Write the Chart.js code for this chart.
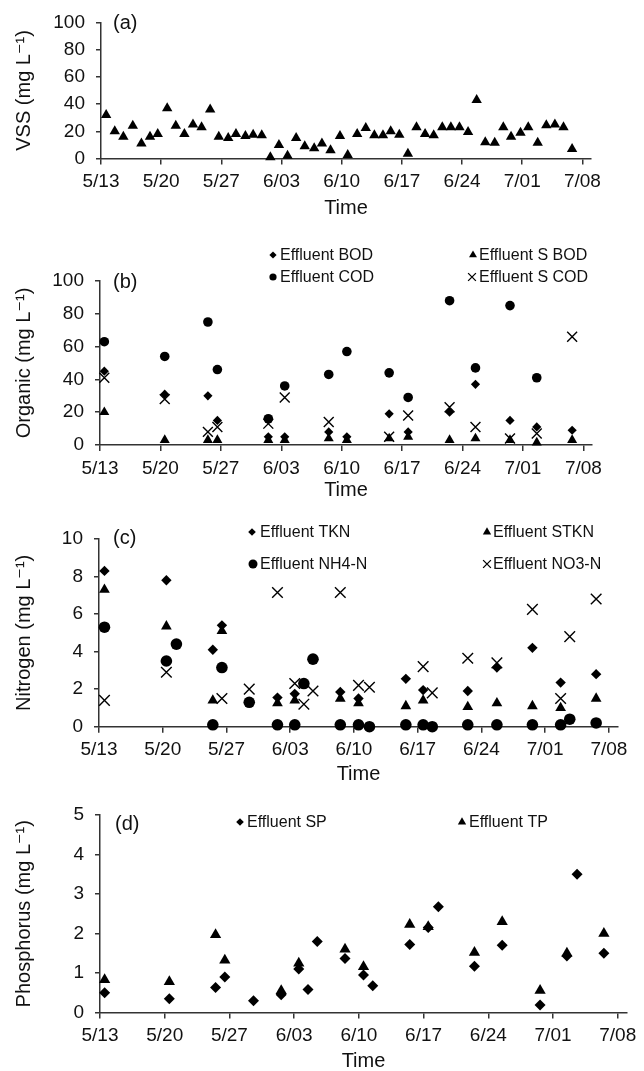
<!DOCTYPE html>
<html>
<head>
<meta charset="utf-8">
<script src="https://cdn.jsdelivr.net/npm/chart.js@4.4.1/dist/chart.umd.min.js"></script>
<style>
html, body { margin: 0; padding: 0; background: #fff; width: 644px; height: 1071px; overflow: hidden; }
.panel { position: absolute; left: 0; width: 644px; }
canvas { display: block; }
</style>
</head>
<body>
<div class="panel" id="pa"><canvas id="chartA"></canvas></div>
<div class="panel" id="pb"><canvas id="chartB"></canvas></div>
<div class="panel" id="pc"><canvas id="chartC"></canvas></div>
<div class="panel" id="pd"><canvas id="chartD"></canvas></div>
<script>
// x axis: days since 5/13
const tickDays = [0, 7, 14, 21, 28, 35, 42, 49, 56];
const tickLabels = ['5/13', '5/20', '5/27', '6/03', '6/10', '6/17', '6/24', '7/01', '7/08'];

// (a) VSS
const vssDays = [0.6, 1.6, 2.6, 3.7, 4.7, 5.7, 6.6, 7.7, 8.7, 9.7, 10.7, 11.7, 12.7, 13.7, 14.8,
    15.7, 16.8, 17.7, 18.7, 19.7, 20.7, 21.7, 22.7, 23.7, 24.8, 25.7, 26.7, 27.8, 28.7, 29.8,
    30.8, 31.8, 32.8, 33.7, 34.7, 35.7, 36.7, 37.7, 38.7, 39.7, 40.7, 41.7, 42.7, 43.7, 44.7,
    45.8, 46.8, 47.7, 48.8, 49.7, 50.8, 51.8, 52.8, 53.8, 54.8];
const vssValues = [32, 20, 16, 24, 11, 16, 18, 37, 24, 18, 25, 23, 36, 16, 15,
    18, 16.5, 17.5, 17, 1, 10, 2, 15, 9, 7.5, 11, 6, 16.5, 2.5, 18,
    22.5, 17, 17, 20, 17.5, 3.5, 23, 18, 17, 23, 23, 23, 19.5, 43, 12,
    11.5, 23, 16, 19, 23, 11.5, 24.5, 25, 23, 7];

// (b) organics
const orgDays = [0.5, 7.5, 12.5, 13.6, 19.5, 21.4, 26.5, 28.6, 33.5, 35.7, 40.5, 43.5, 47.5, 50.6, 54.7];
const bodValues = [45, 31, 30, 15, 5, 5, 8, 5, 19, 8, 20, 37, 15, 11, 9];
const sBodValues = [20, 3, 3, 3, 3, 3, 4, 3, 4, 5, 3, 4, 3, 1.5, 3];
const codValues = [63, 54, 75, 46, 16, 36, 43, 57, 44, 29, 88, 47, 85, 41, null];
const sCodValues = [41, 28, 8, 11, 13, 29, 14, null, 5, 18, 23, 11, 4, 7, 66];

// (c) nitrogen
const tknDays = [0.6, 7.4, 12.5, 13.5, 19.6, 21.5, 26.5, 28.5, 33.7, 35.6, 40.5, 43.7, 47.6, 50.7, 54.6];
const tknValues = [8.3, 7.8, 4.1, 5.4, 1.55, 1.75, 1.85, 1.5, 2.55, 1.95, 1.9, 3.15, 4.2, 2.35, 2.8];
const stknValues = [7.3, 5.35, 1.4, 5.1, 1.25, 1.4, 1.5, 1.25, 1.1, 1.4, 1.05, 1.25, 1.1, 1.0, 1.5];
const nh4Days = [0.6, 7.4, 8.5, 12.5, 13.5, 16.5, 19.6, 21.5, 22.5, 23.5, 26.5, 28.5, 29.7, 33.7, 35.6,
    36.6, 40.5, 43.7, 47.6, 50.7, 51.7, 54.6];
const nh4Values = [5.3, 3.5, 4.4, 0.1, 3.15, 1.3, 0.1, 0.1, 2.3, 3.6, 0.1, 0.1, 0.0, 0.1, 0.1,
    0.0, 0.1, 0.1, 0.1, 0.1, 0.4, 0.2];
const no3Days = [0.6, 7.4, 13.5, 16.5, 19.6, 21.5, 22.5, 23.5, 26.5, 28.5, 29.7, 35.6, 36.6, 40.5,
    43.7, 47.6, 50.7, 51.7, 54.6];
const no3Values = [1.4, 2.9, 1.5, 2.0, 7.15, 2.3, 1.2, 1.9, 7.15, 2.2, 2.1, 3.2, 1.8, 3.65,
    3.4, 6.25, 1.5, 4.8, 6.8];

// (d) phosphorus
const spDays = [0.5, 7.5, 12.5, 13.5, 16.6, 19.6, 21.5, 22.5, 23.5, 26.5, 28.5, 29.5, 33.5, 35.5,
    36.6, 40.5, 43.5, 47.6, 50.5, 51.6, 54.5];
const spValues = [0.5, 0.35, 0.63, 0.9, 0.3, 0.45, 1.1, 0.58, 1.8, 1.37, 0.95, 0.68, 1.72, 2.15,
    2.68, 1.17, 1.7, 0.19, 1.43, 3.5, 1.5];
const tpDays = [0.5, 7.5, 12.5, 13.5, 19.6, 21.5, 26.5, 28.5, 33.5, 35.5, 40.5, 43.5, 47.6, 50.5, 54.5];
const tpValues = [0.83, 0.78, 1.97, 1.32, 0.55, 1.25, 1.6, 1.16, 2.23, 2.17, 1.52, 2.3, 0.56, 1.5, 2.0];

const FONT = '"Liberation Sans", Arial, "DejaVu Sans", sans-serif';
Chart.defaults.font.family = FONT;
Chart.defaults.color = '#111';

const zip = (xs, ys) => xs.map((x, i) => ({ x: x, y: ys[i] }));

function series(label, days, values, style, r) {
    return {
        label: label,
        data: zip(days, values),
        pointStyle: style,
        pointRadius: r,
        pointHoverRadius: r,
        backgroundColor: '#000',
        borderColor: '#000',
        borderWidth: style === 'crossRot' ? 1.4 : 0,
        showLine: false,
        clip: false,
    };
}

function drawMarker(ctx, style, x, y, r) {
    ctx.save();
    ctx.fillStyle = '#000';
    ctx.strokeStyle = '#000';
    ctx.lineWidth = 1.3;
    ctx.beginPath();
    if (style === 'triangle') {
        ctx.moveTo(x, y - r);
        ctx.lineTo(x + r * 0.866, y + r * 0.5);
        ctx.lineTo(x - r * 0.866, y + r * 0.5);
        ctx.closePath();
        ctx.fill();
    } else if (style === 'rectRot') {
        ctx.moveTo(x, y - r);
        ctx.lineTo(x + r, y);
        ctx.lineTo(x, y + r);
        ctx.lineTo(x - r, y);
        ctx.closePath();
        ctx.fill();
    } else if (style === 'circle') {
        ctx.arc(x, y, r, 0, Math.PI * 2);
        ctx.fill();
    } else {
        const o = r * 0.707;
        ctx.moveTo(x - o, y - o); ctx.lineTo(x + o, y + o);
        ctx.moveTo(x + o, y - o); ctx.lineTo(x - o, y + o);
        ctx.stroke();
    }
    ctx.restore();
}

// panel tag "(a)" and the 2-column legend, placed in page coordinates
const annotate = {
    id: 'annotate',
    afterDraw(chart, args, opts) {
        const ctx = chart.ctx;
        const top = opts.top;
        ctx.save();
        ctx.fillStyle = '#111';
        ctx.textBaseline = 'middle';
        ctx.textAlign = 'left';
        ctx.font = '20px ' + FONT;
        ctx.fillText(opts.tag, opts.tagX, opts.tagY - top);
        ctx.font = '16px ' + FONT;
        opts.items.forEach(it => {
            const ds = chart.data.datasets[it.ds];
            drawMarker(ctx, ds.pointStyle, it.x, it.y - top, it.r);
            ctx.fillText(ds.label, it.tx, it.y - top + 1);
        });
        ctx.restore();
    }
};

function makePanel(boxId, canvasId, p) {
    const box = document.getElementById(boxId);
    box.style.top = p.top + 'px';
    box.style.height = p.height + 'px';
    const canvas = document.getElementById(canvasId);
    canvas.width = 644;
    canvas.height = p.height;

    return new Chart(canvas, {
        type: 'scatter',
        data: { datasets: p.datasets },
        options: {
            responsive: false,
            animation: false,
            events: [],
            layout: {
                padding: { left: 0, right: 644 - p.right, top: p.plotTop - p.top, bottom: 0 },
            },
            plugins: {
                legend: { display: false },
                tooltip: { enabled: false },
                annotate: {
                    top: p.top, tag: p.tag, tagX: p.tagX, tagY: p.tagY, items: p.legend,
                },
            },
            scales: {
                x: {
                    type: 'linear',
                    min: 0,
                    max: 57,
                    afterBuildTicks: (scale) => {
                        scale.ticks = tickDays.map(d => ({ value: d }));
                    },
                    afterFit: (scale) => {
                        scale.height = p.top + p.height - p.plotBottom;
                    },
                    ticks: {
                        autoSkip: false,
                        maxRotation: 0,
                        padding: 6,
                        font: { size: 19 },
                        color: '#111',
                        callback: (v) => tickLabels[tickDays.indexOf(v)],
                    },
                    grid: {
                        drawOnChartArea: false,
                        drawTicks: true,
                        tickLength: 6,
                        color: '#333',
                        lineWidth: 1.5,
                    },
                    border: { display: true, color: '#333', width: 1.5 },
                    title: {
                        display: true,
                        text: 'Time',
                        font: { size: 20, lineHeight: 1 },
                        color: '#111',
                        padding: { top: 0, bottom: 0 },
                    },
                },
                y: {
                    min: 0,
                    max: p.yMax,
                    afterFit: (scale) => {
                        scale.width = p.left;
                    },
                    ticks: {
                        stepSize: p.yStep,
                        padding: 11,
                        font: { size: 19 },
                        color: '#111',
                    },
                    grid: {
                        drawOnChartArea: false,
                        drawTicks: true,
                        tickLength: 5,
                        color: '#333',
                        lineWidth: 1.5,
                    },
                    border: { display: true, color: '#333', width: 1.5 },
                    title: {
                        display: true,
                        text: p.yTitle,
                        font: { size: 20, lineHeight: 1 },
                        color: '#111',
                        padding: { top: 14, bottom: 0 },
                    },
                },
            },
        },
        plugins: [annotate],
    });
}

makePanel('pa', 'chartA', {
    top: 0, height: 218, left: 101, right: 591, plotTop: 22, plotBottom: 158.5,
    yMax: 100, yStep: 20, yTitle: 'VSS (mg L\u207B\u00B9)',
    tag: '(a)', tagX: 113, tagY: 23,
    datasets: [series('Effluent VSS', vssDays, vssValues, 'triangle', 6)],
    legend: [],
});

makePanel('pb', 'chartB', {
    top: 240, height: 260, left: 100, right: 592, plotTop: 281, plotBottom: 445,
    yMax: 100, yStep: 20, yTitle: 'Organic (mg L\u207B\u00B9)',
    tag: '(b)', tagX: 113, tagY: 282,
    datasets: [
        series('Effluent BOD', orgDays, bodValues, 'rectRot', 4.6),
        series('Effluent S BOD', orgDays, sBodValues, 'triangle', 5.8),
        series('Effluent COD', orgDays, codValues, 'circle', 4.8),
        series('Effluent S COD', orgDays, sCodValues, 'crossRot', 7),
    ],
    legend: [
        { ds: 0, x: 273, y: 255, r: 3.6, tx: 280 },
        { ds: 1, x: 473, y: 255, r: 4.6, tx: 479 },
        { ds: 2, x: 273, y: 277, r: 3.6, tx: 280 },
        { ds: 3, x: 472, y: 277, r: 5.5, tx: 479 },
    ],
});

makePanel('pc', 'chartC', {
    top: 505, height: 279, left: 99, right: 618, plotTop: 539, plotBottom: 726.7,
    yMax: 10, yStep: 2, yTitle: 'Nitrogen (mg L\u207B\u00B9)',
    tag: '(c)', tagX: 113, tagY: 538,
    datasets: [
        series('Effluent TKN', tknDays, tknValues, 'rectRot', 5.2),
        series('Effluent STKN', tknDays, stknValues, 'triangle', 6.2),
        series('Effluent NH4-N', nh4Days, nh4Values, 'circle', 5.8),
        series('Effluent NO3-N', no3Days, no3Values, 'crossRot', 7.5),
    ],
    legend: [
        { ds: 0, x: 252, y: 532, r: 3.8, tx: 260 },
        { ds: 1, x: 487, y: 532, r: 4.8, tx: 493 },
        { ds: 2, x: 253, y: 564, r: 4.5, tx: 260 },
        { ds: 3, x: 487, y: 564, r: 5.5, tx: 493 },
    ],
});

makePanel('pd', 'chartD', {
    top: 790, height: 281, left: 100, right: 627, plotTop: 815, plotBottom: 1012.5,
    yMax: 5, yStep: 1, yTitle: 'Phosphorus (mg L\u207B\u00B9)',
    tag: '(d)', tagX: 115, tagY: 824,
    datasets: [
        series('Effluent SP', spDays, spValues, 'rectRot', 5.5),
        series('Effluent TP', tpDays, tpValues, 'triangle', 6.5),
    ],
    legend: [
        { ds: 0, x: 240, y: 822, r: 3.8, tx: 247 },
        { ds: 1, x: 462, y: 822, r: 4.8, tx: 469 },
    ],
});
</script>
</body>
</html>
